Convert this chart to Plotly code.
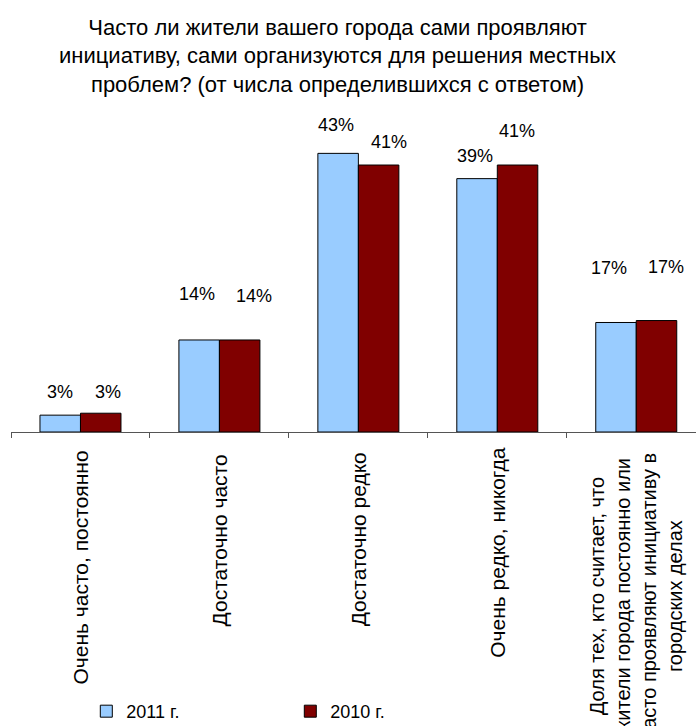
import plotly.graph_objects as go

categories = [
    "Очень часто, постоянно",
    "Достаточно часто",
    "Достаточно редко",
    "Очень редко, никогда",
    "Доля тех, кто считает, что<br>жители города постоянно или<br>часто проявляют инициативу в<br>городских делах",
]
cat_keys = ["c1", "c2", "c3", "c4", "c5"]
values_2011 = [2.6, 14.2, 43.0, 39.1, 16.9]
values_2010 = [2.9, 14.2, 41.2, 41.2, 17.2]
labels_2011 = ["3%", "14%", "43%", "39%", "17%"]
labels_2010 = ["3%", "14%", "41%", "41%", "17%"]
series_names = ["2011 г.", "2010 г."]

# label placement styling (pixel offsets from bar top / bar centre)
yshift_2011 = [23, 46, 28, 23, 54]
yshift_2010 = [21, 44, 23, 34, 54]
xshift_2011 = [0, -2, -2, -2, -7]
xshift_2010 = [7, 14, 10, -1, 9]
cat_label_shift = [-16, -20, -18, -13, -19]
cat_label_size = [21, 21, 21, 21, 20]

FONT = "Liberation Sans, Arial, sans-serif"
C2011 = "#99CCFF"
C2010 = "#800000"

fig = go.Figure()
fig.add_trace(go.Bar(
    x=cat_keys, y=values_2011, name=series_names[0],
    marker=dict(color=C2011, line=dict(color="black", width=1)),
    offsetgroup="a",
))
fig.add_trace(go.Bar(
    x=cat_keys, y=values_2010, name=series_names[1],
    marker=dict(color=C2010, line=dict(color="black", width=1)),
    offsetgroup="b",
))

annotations = []
bar_w = (1 - 0.417) / 2
for i, k in enumerate(cat_keys):
    for vals, labs, xs, ys, off in (
        (values_2011, labels_2011, xshift_2011, yshift_2011, -bar_w / 2),
        (values_2010, labels_2010, xshift_2010, yshift_2010, bar_w / 2),
    ):
        annotations.append(dict(
            x=i + off, xref="x", y=vals[i], yref="y",
            text=labs[i], showarrow=False,
            xanchor="center", yanchor="middle",
            xshift=xs[i], yshift=ys[i],
            font=dict(family=FONT, size=18, color="black"),
        ))
    annotations.append(dict(
        x=k, xref="x", y=0, yref="y",
        text=categories[i], showarrow=False, textangle=-90,
        xanchor="center", yanchor="top", yshift=cat_label_shift[i],
        align="center",
        font=dict(family=FONT, size=cat_label_size[i], color="black"),
    ))

fig.update_layout(
    width=696, height=726,
    paper_bgcolor="white", plot_bgcolor="white",
    margin=dict(l=11, r=0, t=108, b=294),
    barmode="group", bargap=0.417, bargroupgap=0,
    font=dict(family=FONT, size=18, color="black"),
    title=dict(
        text="Часто ли жители вашего города сами проявляют<br>"
             "инициативу, сами организуются для решения местных<br>"
             "проблем? (от числа определившихся с ответом)",
        x=0.485, xanchor="center", y=0.952, yanchor="top",
        font=dict(family=FONT, size=22, color="black"),
    ),
    xaxis=dict(
        type="category", range=[-0.5, 4.43],
        showticklabels=False, tickson="boundaries",
        ticks="outside", ticklen=5, tickcolor="#555555",
        showline=True, linecolor="#555555", linewidth=1,
        showgrid=False, zeroline=False,
    ),
    yaxis=dict(
        range=[0, 50], visible=False, showgrid=False, zeroline=False,
    ),
    showlegend=True,
    legend=dict(
        orientation="h", xref="container", yref="container",
        x=0.124, xanchor="left", y=0.02, yanchor="middle",
        entrywidth=159, font=dict(family=FONT, size=18, color="black"),
        bgcolor="rgba(0,0,0,0)",
    ),
    annotations=annotations,
)

fig.write_html(
    "out.html",
    config={"displayModeBar": False},
    post_script="document.body.style.margin='0';document.body.style.overflow='hidden';",
)
